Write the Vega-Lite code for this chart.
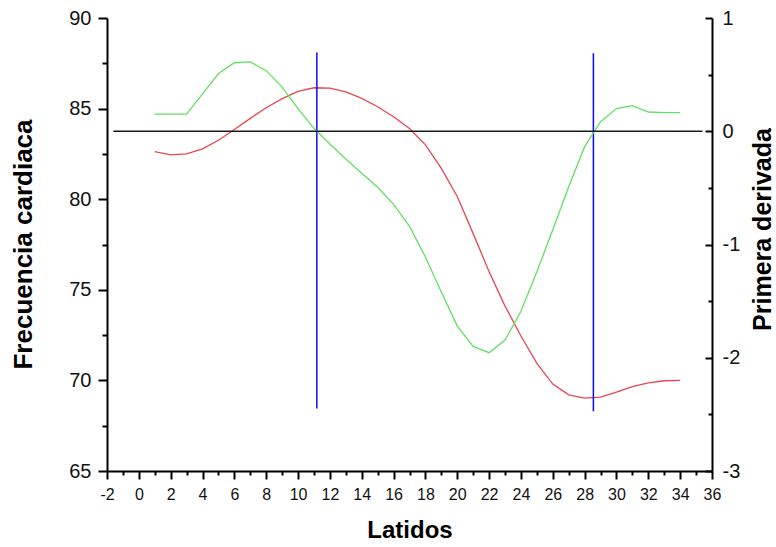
{
  "$schema": "https://vega.github.io/schema/vega-lite/v6.json",
  "width": 605,
  "height": 453,
  "autosize": "none",
  "padding": {"left": 107, "top": 18, "right": 64, "bottom": 76},
  "background": "white",
  "config": {
    "view": {"stroke": null},
    "axis": {
      "grid": false,
      "domainColor": "#000000",
      "domainWidth": 2,
      "tickColor": "#000000",
      "tickWidth": 2,
      "labelFont": "Liberation Sans",
      "labelColor": "#111111",
      "titleFont": "Liberation Sans",
      "titleColor": "#000000",
      "titleFontWeight": "bold",
      "labelFlush": false,
      "labelOverlap": false
    }
  },
  "datasets": {
    "frecuencia": [
      {"latido": 1, "valor": 82.62}, {"latido": 2, "valor": 82.45}, {"latido": 3, "valor": 82.5},
      {"latido": 4, "valor": 82.78}, {"latido": 5, "valor": 83.25}, {"latido": 6, "valor": 83.85},
      {"latido": 7, "valor": 84.46}, {"latido": 8, "valor": 85.05}, {"latido": 9, "valor": 85.55},
      {"latido": 10, "valor": 85.95}, {"latido": 11, "valor": 86.15}, {"latido": 12, "valor": 86.13},
      {"latido": 13, "valor": 85.92}, {"latido": 14, "valor": 85.56}, {"latido": 15, "valor": 85.1},
      {"latido": 16, "valor": 84.55}, {"latido": 17, "valor": 83.9}, {"latido": 18, "valor": 83.0},
      {"latido": 19, "valor": 81.7}, {"latido": 20, "valor": 80.15}, {"latido": 21, "valor": 78.1},
      {"latido": 22, "valor": 76.0}, {"latido": 23, "valor": 74.1}, {"latido": 24, "valor": 72.45},
      {"latido": 25, "valor": 70.94}, {"latido": 26, "valor": 69.8}, {"latido": 27, "valor": 69.2},
      {"latido": 28, "valor": 69.02}, {"latido": 29, "valor": 69.08}, {"latido": 30, "valor": 69.35},
      {"latido": 31, "valor": 69.65}, {"latido": 32, "valor": 69.86}, {"latido": 33, "valor": 69.98},
      {"latido": 34, "valor": 70.0}
    ],
    "derivada": [
      {"latido": 1, "valor": 0.152}, {"latido": 2, "valor": 0.152}, {"latido": 3, "valor": 0.152},
      {"latido": 4, "valor": 0.33}, {"latido": 5, "valor": 0.51}, {"latido": 6, "valor": 0.605},
      {"latido": 7, "valor": 0.612}, {"latido": 8, "valor": 0.535}, {"latido": 9, "valor": 0.39},
      {"latido": 10, "valor": 0.2}, {"latido": 11, "valor": 0.026}, {"latido": 12, "valor": -0.113},
      {"latido": 13, "valor": -0.245}, {"latido": 14, "valor": -0.37}, {"latido": 15, "valor": -0.495},
      {"latido": 16, "valor": -0.645}, {"latido": 17, "valor": -0.84}, {"latido": 18, "valor": -1.11},
      {"latido": 19, "valor": -1.42}, {"latido": 20, "valor": -1.72}, {"latido": 21, "valor": -1.9},
      {"latido": 22, "valor": -1.955}, {"latido": 23, "valor": -1.843}, {"latido": 24, "valor": -1.59},
      {"latido": 25, "valor": -1.24}, {"latido": 26, "valor": -0.87}, {"latido": 27, "valor": -0.49},
      {"latido": 28, "valor": -0.136}, {"latido": 29, "valor": 0.084}, {"latido": 30, "valor": 0.2},
      {"latido": 31, "valor": 0.226}, {"latido": 32, "valor": 0.17}, {"latido": 33, "valor": 0.164},
      {"latido": 34, "valor": 0.164}
    ],
    "marcas": [
      {"latido": 11.18, "inicio": 68.45, "fin": 88.1},
      {"latido": 28.55, "inicio": 68.3, "fin": 88.05}
    ],
    "cero": [
      {"desde": -1.6, "hasta": 35.4, "valor": 0}
    ]
  },
  "layer": [
    {
      "data": {"name": "frecuencia"},
      "mark": {"type": "line", "color": "#e84650", "strokeWidth": 1.3},
      "encoding": {
        "x": {
          "field": "latido", "type": "quantitative",
          "scale": {"domain": [-2, 36], "nice": false, "zero": false},
          "axis": {
            "orient": "bottom",
            "values": [-2, 0, 2, 4, 6, 8, 10, 12, 14, 16, 18, 20, 22, 24, 26, 28, 30, 32, 34, 36],
            "labelExpr": "'' + datum.value",
            "tickSize": 8,
            "labelFontSize": 16,
            "labelBaseline": "alphabetic",
            "labelPadding": 20,
            "title": "Latidos",
            "titleFontSize": 24,
            "titleBaseline": "alphabetic",
            "titleY": 66
          }
        },
        "y": {
          "field": "valor", "type": "quantitative",
          "scale": {"domain": [65, 90], "nice": false, "zero": false},
          "axis": {
            "orient": "left",
            "values": [65, 70, 75, 80, 85, 90],
            "tickSize": 9,
            "labelFontSize": 20,
            "labelPadding": 7,
            "labelBaseline": "middle",
            "title": "Frecuencia cardiaca",
            "titleFontSize": 26,
            "titleAngle": 270,
            "titleAlign": "center",
            "titleBaseline": "alphabetic",
            "titleX": -76,
            "titleY": 226
          }
        }
      }
    },
    {
      "data": {"name": "marcas"},
      "mark": {"type": "rule", "color": "#0a0aff", "strokeWidth": 1.5},
      "encoding": {
        "x": {
          "field": "latido", "type": "quantitative",
          "scale": {"domain": [-2, 36], "nice": false, "zero": false},
          "axis": {
            "orient": "bottom",
            "values": [-1, 1, 3, 5, 7, 9, 11, 13, 15, 17, 19, 21, 23, 25, 27, 29, 31, 33, 35],
            "tickSize": 4,
            "labels": false,
            "domain": false,
            "title": null
          }
        },
        "y": {
          "field": "inicio", "type": "quantitative",
          "scale": {"domain": [65, 90], "nice": false, "zero": false},
          "axis": {
            "orient": "left",
            "values": [67.5, 72.5, 77.5, 82.5, 87.5],
            "tickSize": 5,
            "labels": false,
            "domain": false,
            "title": null
          }
        },
        "y2": {"field": "fin"}
      }
    },
    {
      "data": {"name": "derivada"},
      "mark": {"type": "line", "color": "#62e062", "strokeWidth": 1.3},
      "encoding": {
        "x": {
          "field": "latido", "type": "quantitative",
          "scale": {"domain": [-2, 36], "nice": false, "zero": false},
          "axis": null
        },
        "y": {
          "field": "valor", "type": "quantitative",
          "scale": {"domain": [-3, 1], "nice": false, "zero": false},
          "axis": {
            "orient": "right",
            "values": [-3, -2, -1, 0, 1],
            "labelExpr": "'' + datum.value",
            "tickSize": -7,
            "labelFontSize": 20,
            "labelPadding": 17,
            "labelAlign": "left",
            "labelBaseline": "middle",
            "title": "Primera derivada",
            "titleFontSize": 25,
            "titleAngle": 270,
            "titleAlign": "center",
            "titleBaseline": "alphabetic",
            "titleX": 58,
            "titleY": 211
          }
        }
      }
    },
    {
      "data": {"name": "cero"},
      "mark": {"type": "rule", "color": "#1a1a1a", "strokeWidth": 1.5},
      "encoding": {
        "x": {
          "field": "desde", "type": "quantitative",
          "scale": {"domain": [-2, 36], "nice": false, "zero": false},
          "axis": null
        },
        "x2": {"field": "hasta"},
        "y": {
          "field": "valor", "type": "quantitative",
          "scale": {"domain": [-3, 1], "nice": false, "zero": false},
          "axis": {
            "orient": "right",
            "values": [-2.5, -1.5, -0.5, 0.5],
            "tickSize": -4,
            "labels": false,
            "domain": false,
            "title": null
          }
        }
      }
    }
  ],
  "resolve": {"scale": {"x": "independent", "y": "independent"}}
}
